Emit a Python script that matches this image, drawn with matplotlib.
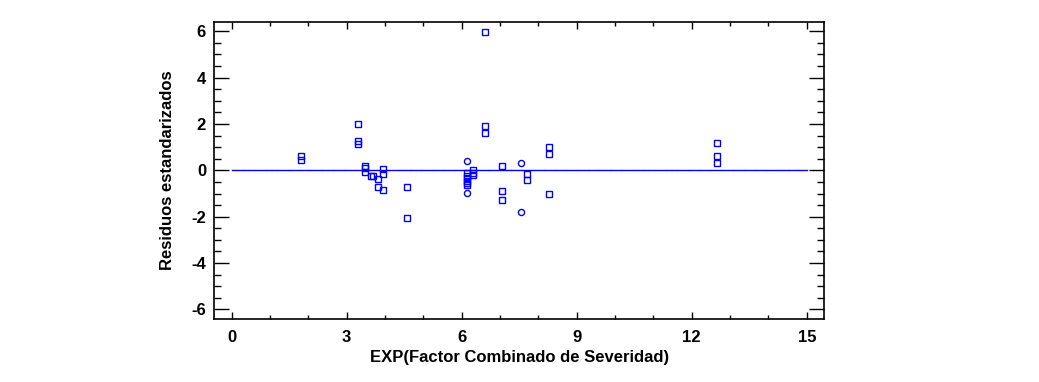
import matplotlib
matplotlib.use("Agg")
import matplotlib.pyplot as plt
from matplotlib.ticker import MultipleLocator

plt.rcParams["font.family"] = ["Liberation Sans", "DejaVu Sans"]
plt.rcParams["axes.unicode_minus"] = False

# residuals plotted as squares
sq_x = [1.81, 1.81,
        3.29, 3.29, 3.29,
        3.49, 3.49, 3.49,
        3.63, 3.70,
        3.81, 3.81,
        3.94, 3.94, 3.94,
        4.57, 4.57,
        6.61, 6.61, 6.61,
        6.15, 6.15, 6.15, 6.15, 6.15, 6.15,
        6.30, 6.30, 6.30,
        7.05, 7.05, 7.05,
        7.71, 7.71,
        8.27, 8.27, 8.27,
        12.67, 12.67, 12.67]
sq_y = [0.62, 0.46,
        2.02, 1.27, 1.12,
        0.19, 0.08, -0.08,
        -0.26, -0.26,
        -0.36, -0.71,
        0.07, -0.17, -0.85,
        -0.72, -2.07,
        5.95, 1.92, 1.62,
        -0.12, -0.23, -0.35, -0.45, -0.55, -0.64,
        0.0, -0.12, -0.22,
        0.19, -0.87, -1.27,
        -0.17, -0.40,
        1.0, 0.72, -1.04,
        1.16, 0.64, 0.33]

# residuals plotted as circles
ci_x = [6.15, 6.15, 7.55, 7.55]
ci_y = [0.39, -0.97, 0.33, -1.79]

x_ticks = [0, 3, 6, 9, 12, 15]
y_ticks = [-6, -4, -2, 0, 2, 4, 6]

fig = plt.figure(figsize=(10.39, 3.82), dpi=100)
ax = fig.add_axes([0.2063, 0.1657, 0.5868, 0.7767])

ax.plot([0, 15], [0, 0], color="#bbbbbb", lw=1, ls=(0, (1, 7)), zorder=1)
ax.plot([0, 15], [0, 0], color="blue", lw=1, zorder=2)

ax.plot(sq_x, sq_y, ls="none", marker="s", ms=3.8, mfc="none", mec="blue", mew=1, zorder=3)
ax.plot(ci_x, ci_y, ls="none", marker="o", ms=4.4, mfc="none", mec="blue", mew=1, zorder=3)

ax.set_xlim(-0.45, 15.45)
ax.set_ylim(-6.4, 6.4)
ax.set_xticks(x_ticks)
ax.set_yticks(y_ticks)
ax.xaxis.set_minor_locator(MultipleLocator(1))
ax.yaxis.set_minor_locator(MultipleLocator(0.5))

ax.tick_params(which="both", direction="in", top=True, right=True, width=1, colors="black")
ax.tick_params(axis="y", which="major", length=11, pad=6)
ax.tick_params(axis="y", which="minor", length=5)
ax.tick_params(axis="x", which="major", length=5, pad=8)
ax.tick_params(axis="x", which="minor", length=3)

for lab in ax.get_xticklabels() + ax.get_yticklabels():
    lab.set_fontweight("bold")
    lab.set_fontsize(12)

for s in ax.spines.values():
    s.set_linewidth(1.2)

ax.set_xlabel("EXP(Factor Combinado de Severidad)", fontsize=12, fontweight="bold", labelpad=4)
ax.set_ylabel("Residuos estandarizados", fontsize=12, fontweight="bold", labelpad=12)

fig.savefig("out.png", dpi=100)
